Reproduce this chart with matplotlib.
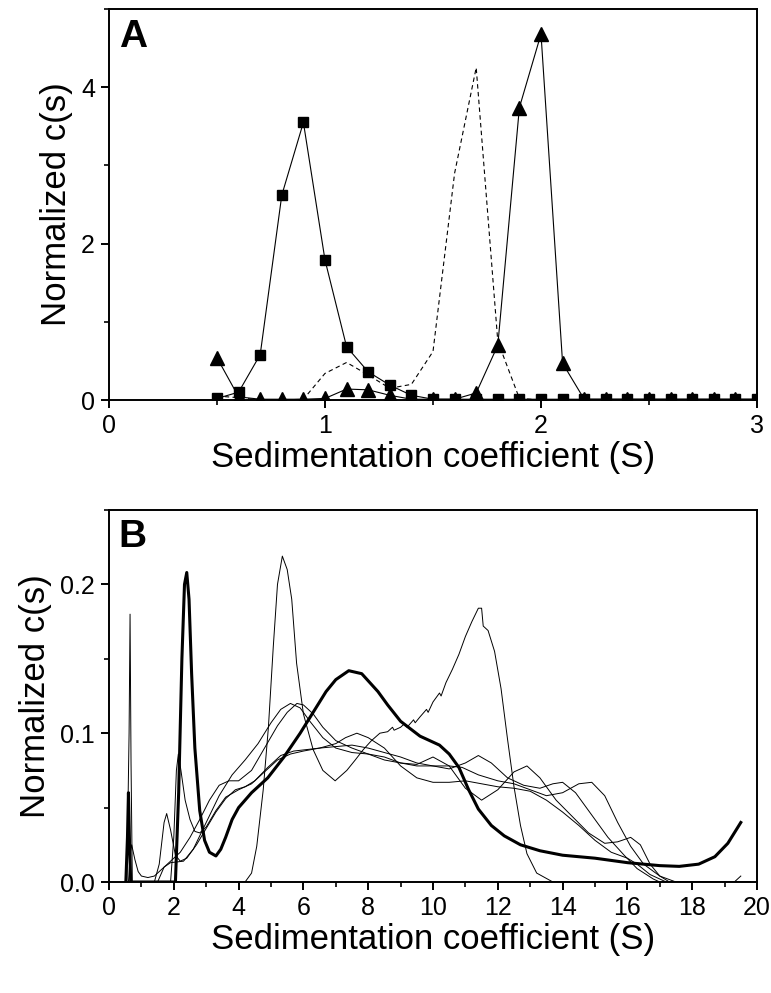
import matplotlib
matplotlib.use('Agg')
import matplotlib.pyplot as plt
from matplotlib.ticker import MultipleLocator, FormatStrFormatter

plt.rcParams['font.family'] = ['Liberation Sans', 'DejaVu Sans']

# ---- panel A data ----
s_a = [0.5, 0.6, 0.7, 0.8, 0.9, 1.0, 1.1, 1.2, 1.3, 1.4, 1.5, 1.6, 1.7, 1.8, 1.9, 2.0,
       2.1, 2.2, 2.3, 2.4, 2.5, 2.6, 2.7, 2.8, 2.9, 3.0]
squares = [0.02, 0.10, 0.58, 2.62, 3.55, 1.79, 0.68, 0.36, 0.19, 0.06, 0.01, 0.01, 0.01,
           0.01, 0.01, 0.01, 0.01, 0.01, 0.01, 0.01, 0.01, 0.01, 0.01, 0.01, 0.01, 0.01]
triangles = [0.54, 0.04, 0.01, 0.01, 0.01, 0.02, 0.14, 0.13, 0.06, 0.01, 0.01, 0.01, 0.09,
             0.70, 3.74, 4.68, 0.47, 0.01, 0.01, 0.01, 0.01, 0.01, 0.01, 0.01, 0.01, 0.01]
dashed_s = [0.5, 0.6, 0.7, 0.8, 0.9, 1.0, 1.1, 1.2, 1.3, 1.4, 1.5, 1.6, 1.7, 1.8, 1.9, 2.0]
dashed = [0.05, 0.03, 0.0, 0.0, 0.01, 0.34, 0.48, 0.32, 0.15, 0.20, 0.62, 2.90, 4.25,
          0.75, 0.02, 0.0]

# ---- panel B data ----
thick_x = [0.52, 0.57, 0.60, 0.63, 0.67, 2.05, 2.15, 2.25, 2.33, 2.40, 2.47, 2.55, 2.65,
           2.80, 2.95, 3.10, 3.30, 3.45, 3.60, 3.80, 4.00, 4.40, 4.90, 5.40, 5.90, 6.30,
           6.70, 7.00, 7.40, 7.80, 8.30, 8.60, 9.00, 9.60, 10.20, 10.50, 10.80, 11.10,
           11.40, 11.80, 12.20, 12.70, 13.30, 14.00, 15.00, 16.00, 17.00, 17.60, 18.20,
           18.70, 19.10, 19.50]
thick_y = [0.0, 0.03, 0.06, 0.03, 0.0, 0.0, 0.06, 0.15, 0.20, 0.208, 0.19, 0.14, 0.09,
           0.048, 0.028, 0.020, 0.0175, 0.022, 0.030, 0.042, 0.050, 0.060, 0.070, 0.084,
           0.100, 0.114, 0.128, 0.136, 0.142, 0.140, 0.128, 0.119, 0.108, 0.098, 0.092,
           0.086, 0.077, 0.062, 0.049, 0.038, 0.031, 0.025, 0.021, 0.018, 0.016, 0.013,
           0.011, 0.0105, 0.012, 0.017, 0.026, 0.040]

t1_x = [0.5, 4.2, 4.4, 4.56, 4.76, 4.92, 5.07, 5.2, 5.35, 5.5, 5.64, 5.79, 6.0, 6.3, 6.6,
        6.98, 7.34, 7.6, 7.85, 8.1, 8.36, 8.6, 8.75, 8.8, 9.0, 9.1, 9.2, 9.4, 9.45, 9.6,
        9.8, 9.85, 10.0, 10.2, 10.25, 10.4, 10.6, 10.8, 11.0, 11.2, 11.4, 11.5, 11.55,
        11.7, 11.9, 12.1, 12.3, 12.5, 12.7, 12.9, 13.2, 13.7, 19.3, 19.5]
t1_y = [0.0, 0.0, 0.006, 0.024, 0.062, 0.104, 0.158, 0.200, 0.219, 0.210, 0.190, 0.147,
        0.113, 0.089, 0.075, 0.068, 0.075, 0.082, 0.089, 0.095, 0.100, 0.101, 0.104,
        0.102, 0.104, 0.106, 0.104, 0.109, 0.107, 0.111, 0.116, 0.114, 0.121, 0.127,
        0.125, 0.134, 0.143, 0.153, 0.165, 0.175, 0.184, 0.184, 0.172, 0.169, 0.155,
        0.130, 0.096, 0.064, 0.038, 0.019, 0.006, 0.0, 0.0, 0.004]

b1_x = [0.55, 0.62, 0.65, 0.68, 0.72, 1.5, 1.7, 1.9, 2.3, 2.6, 3.0, 3.4, 3.8, 4.2, 4.6,
        5.0, 5.3, 5.6, 5.9, 6.2, 6.6, 7.0, 7.5, 8.0, 8.5, 9.0, 9.5, 10.0, 10.5, 11.0,
        11.4, 11.8, 12.3, 12.8, 13.3, 13.7, 14.0, 14.4, 14.9, 15.4, 15.9, 16.3, 16.8,
        17.0, 19.8]
b1_y = [0.0, 0.10, 0.18, 0.08, 0.0, 0.0, 0.010, 0.013, 0.014, 0.022, 0.040, 0.058, 0.072,
        0.082, 0.093, 0.107, 0.116, 0.120, 0.117, 0.108, 0.097, 0.090, 0.087, 0.086,
        0.084, 0.080, 0.078, 0.078, 0.076, 0.080, 0.085, 0.080, 0.070, 0.065, 0.063,
        0.066, 0.067, 0.060, 0.045, 0.030, 0.018, 0.009, 0.002, 0.0, 0.0]

b2_x = [0.6, 0.66, 0.7, 0.8, 0.9, 1.0, 1.2, 1.4, 1.6, 1.8, 2.0, 2.2, 2.5, 2.8, 3.1, 3.4,
        3.7, 4.0, 4.4, 4.8, 5.2, 5.5, 5.8, 6.0, 6.3, 6.6, 7.0, 7.5, 8.0, 8.5, 9.0, 9.5,
        10.0, 10.5, 11.0, 11.5, 12.0, 12.5, 12.9, 13.3, 13.8, 14.3, 14.8, 15.3, 15.7,
        16.1, 16.4, 16.7, 17.0, 17.3, 19.8]
b2_y = [0.0, 0.020, 0.025, 0.015, 0.007, 0.004, 0.003, 0.004, 0.008, 0.012, 0.016, 0.020,
        0.030, 0.042, 0.055, 0.065, 0.068, 0.068, 0.075, 0.090, 0.105, 0.114, 0.120,
        0.119, 0.113, 0.104, 0.095, 0.090, 0.086, 0.082, 0.080, 0.079, 0.084, 0.078,
        0.063, 0.055, 0.062, 0.074, 0.078, 0.070, 0.055, 0.044, 0.033, 0.026, 0.027,
        0.030, 0.025, 0.012, 0.004, 0.0, 0.0]

b3_x = [1.4, 1.55, 1.7, 1.78, 1.9, 2.05, 2.2, 2.4, 2.7, 3.0, 3.3, 3.6, 3.9, 4.2, 4.5, 4.9,
        5.3, 5.7, 6.1, 6.5, 7.0, 7.3, 7.65, 8.0, 8.5, 9.0, 9.5, 10.0, 10.5, 11.0, 11.5,
        12.0, 12.5, 13.0, 13.5, 14.0, 14.5, 15.0, 15.5, 16.0, 16.3, 16.7, 17.2, 19.8]
b3_y = [0.0, 0.012, 0.040, 0.046, 0.035, 0.018, 0.014, 0.016, 0.025, 0.036, 0.047, 0.056,
        0.062, 0.064, 0.068, 0.077, 0.085, 0.088, 0.089, 0.090, 0.093, 0.097, 0.100,
        0.097, 0.090, 0.078, 0.070, 0.067, 0.067, 0.068, 0.066, 0.064, 0.063, 0.061,
        0.055, 0.047, 0.038, 0.028, 0.020, 0.016, 0.012, 0.005, 0.0, 0.0]

b4_x = [1.9, 2.0, 2.08, 2.14, 2.22, 2.35, 2.5, 2.65, 2.8, 3.0, 3.3, 3.6, 4.0, 4.4, 4.8,
        5.2, 5.6, 6.0, 6.5, 7.0, 7.5, 8.0, 8.5, 9.0, 9.5, 10.0, 10.5, 10.9, 11.4, 12.0,
        12.5, 13.0, 13.5, 14.0, 14.5, 14.9, 15.3, 15.7, 16.1, 16.5, 17.0, 17.5, 19.8]
b4_y = [0.0, 0.030, 0.075, 0.086, 0.075, 0.055, 0.042, 0.034, 0.033, 0.037, 0.048, 0.057,
        0.062, 0.066, 0.074, 0.082, 0.086, 0.088, 0.090, 0.091, 0.092, 0.090, 0.087,
        0.084, 0.080, 0.078, 0.078, 0.077, 0.072, 0.068, 0.066, 0.062, 0.058, 0.060,
        0.066, 0.067, 0.058, 0.040, 0.024, 0.012, 0.004, 0.0, 0.0]

thin_curves = [(t1_x, t1_y), (b1_x, b1_y), (b2_x, b2_y), (b3_x, b3_y), (b4_x, b4_y)]

fig = plt.figure(figsize=(7.71, 9.93), dpi=100)
axA = fig.add_axes([109 / 771, 1 - 400 / 993, 648 / 771, 391 / 993])
axB = fig.add_axes([109 / 771, 1 - 882 / 993, 648 / 771, 372 / 993])

ylab_family = ['Liberation Sans Narrow', 'Liberation Sans', 'DejaVu Sans']

def style_axis(ax):
    for sp in ax.spines.values():
        sp.set_linewidth(1.4)
    ax.tick_params(which='major', direction='out', length=6, width=1.4,
                   labelsize=18, top=False, right=False, pad=4)
    ax.tick_params(which='minor', direction='out', length=3.5, width=1.2,
                   top=False, right=False)

# panel A
axA.plot(dashed_s, dashed, color='black', lw=0.8, ls=(0, (4, 3)))
axA.plot(s_a, squares, color='black', lw=0.8, marker='s', ms=7)
axA.plot(s_a, triangles, color='black', lw=0.8, marker='^', ms=9.5)
axA.set_xlim(0, 3)
axA.set_ylim(0, 5)
axA.xaxis.set_major_locator(MultipleLocator(1))
axA.xaxis.set_minor_locator(MultipleLocator(0.5))
axA.yaxis.set_major_locator(MultipleLocator(2))
axA.yaxis.set_minor_locator(MultipleLocator(1))
style_axis(axA)
axA.set_xlabel('Sedimentation coefficient (S)', fontsize=25, labelpad=2)
axA.set_ylabel('Normalized c(s)', fontsize=25, family=ylab_family, labelpad=6)
axA.text(0.015, 0.975, 'A', transform=axA.transAxes, fontsize=28,
         fontweight='bold', va='top', ha='left')

# panel B
for xs, ys in thin_curves:
    axB.plot(xs, ys, color='black', lw=0.7)
axB.plot(thick_x, thick_y, color='black', lw=2.2)
axB.set_xlim(0, 20)
axB.set_ylim(0, 0.25)
axB.xaxis.set_major_locator(MultipleLocator(2))
axB.xaxis.set_minor_locator(MultipleLocator(1))
axB.yaxis.set_major_locator(MultipleLocator(0.1))
axB.yaxis.set_minor_locator(MultipleLocator(0.05))
axB.yaxis.set_major_formatter(FormatStrFormatter('%.1f'))
style_axis(axB)
axB.set_xlabel('Sedimentation coefficient (S)', fontsize=25, labelpad=2)
axB.set_ylabel('Normalized c(s)', fontsize=25, family=ylab_family, labelpad=6)
axB.text(0.015, 0.975, 'B', transform=axB.transAxes, fontsize=28,
         fontweight='bold', va='top', ha='left')

fig.savefig('out.png', dpi=100, facecolor='white')
